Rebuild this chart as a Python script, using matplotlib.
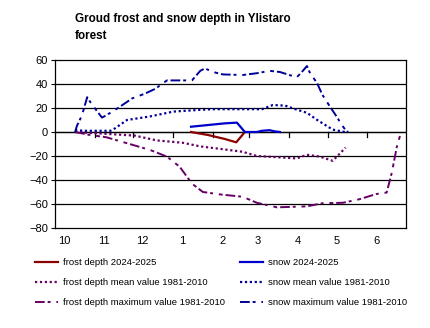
import matplotlib
matplotlib.use("Agg")
import matplotlib.pyplot as plt
import numpy as np

plt.rcParams['font.family'] = ['Liberation Sans', 'DejaVu Sans']

# days counted from 1 October
month_labels = ["10", "11", "12", "1", "2", "3", "4", "5", "6"]
month_len = [31, 30, 31, 31, 28, 31, 30, 31, 30]

frost_day = [105.8, 119, 132, 141, 147.7]
frost_val = [0, -2.5, -5.8, -8.6, 0]

snow_day = [105.8, 119, 132, 141.5, 147.7, 157, 161, 167, 171, 175]
snow_val = [4.4, 5.8, 7.2, 7.8, 0, 0, 1, 1.5, 0.5, 0]

frost_mean_day = [15.6, 32, 46.6, 62, 79, 99.5, 113, 128, 146, 157, 188, 196, 206, 216, 221.6, 226]
frost_mean_val = [0, -1, -2, -3, -7, -9, -12, -14, -16.5, -20, -22, -19, -20.5, -24, -18, -13]

snow_mean_day = [15.6, 23, 43, 46.6, 56, 74, 92, 113, 123, 161, 169.5, 179, 185, 196, 204, 211.5, 216, 225.5]
snow_mean_val = [1.5, 1, 1, 3, 10, 13, 17, 18.5, 19, 19, 22.5, 22, 19.7, 16, 10, 5, 2, 0]

frost_max_day = [15.6, 27, 40, 58, 74, 87, 97, 106.5, 115, 128, 146, 157, 172.6, 196, 208, 224, 237, 250, 258, 262, 266, 269]
frost_max_val = [0, -2.5, -4.4, -10, -15, -20.5, -29, -43, -50, -52, -54, -59, -62.8, -62, -59.4, -59, -56, -51.7, -50.5, -34, -12, -1]

snow_max_day = [15.6, 17, 21, 25, 28, 36.5, 40, 49, 60, 70, 78, 87, 106.5, 113, 116.6, 123, 130.6, 146, 157,
                167, 175, 181, 188, 192, 196, 198, 204, 208, 214, 219, 223, 226, 228]
snow_max_val = [0, 5, 14, 29, 24, 12, 14, 20, 28, 32, 36, 43, 43, 51, 53, 50, 48, 47.5, 49,
                51, 50, 48, 45.5, 50, 55, 50, 40.5, 31, 21, 13, 6, 1.7, 0]

dash_dot = (0, (5, 1.5, 1.5, 3, 2, 1.5))

fig = plt.figure(figsize=(4.3, 3.28), dpi=100)
ax = fig.add_axes([0.128, 0.305, 0.816, 0.512])

h1, = ax.plot(frost_day, frost_val, color="#8b0000", lw=1.6, label="frost depth 2024-2025")
h4, = ax.plot(snow_day, snow_val, color="#0000cc", lw=1.6, label="snow 2024-2025")
h2, = ax.plot(frost_mean_day, frost_mean_val, color="#660066", lw=1.6, linestyle=(0, (1, 1.2)),
              label="frost depth mean value 1981-2010")
h5, = ax.plot(snow_mean_day, snow_mean_val, color="#000099", lw=1.6, linestyle=(0, (1, 1.2)),
              label="snow mean value 1981-2010")
h3, = ax.plot(frost_max_day, frost_max_val, color="#660066", lw=1.4, linestyle=dash_dot,
              label="frost depth maximum value 1981-2010")
h6, = ax.plot(snow_max_day, snow_max_val, color="#000099", lw=1.4, linestyle=dash_dot,
              label="snow maximum value 1981-2010")

month_start = np.concatenate([[0], np.cumsum(month_len)])
ax.set_xlim(0, month_start[-1])
ax.set_ylim(-80, 60)
ax.set_yticks(np.arange(-80, 61, 20))
for yv in np.arange(-60, 60, 20):
    ax.axhline(yv, color="black", lw=0.9, zorder=0.5)
# x axis crossing at zero with month tick marks
ax.axhline(0, color="black", lw=0.9, zorder=0.5)
for xs in month_start[1:-1]:
    ax.plot([xs, xs], [0, -4], color="black", lw=0.9, zorder=0.5)

ax.set_xticks(month_start[:-1] + 7)
ax.set_xticklabels(month_labels)
ax.tick_params(axis="x", length=0, labelsize=8, pad=6)
ax.tick_params(axis="y", length=3, labelsize=8, pad=2)
for sp in ax.spines.values():
    sp.set_linewidth(0.9)

fig.text(0.174, 0.916, "Groud frost and snow depth in Ylistaro\nforest", fontsize=8.4, fontweight="bold",
         va="center", ha="left", linespacing=1.5)

fig.legend(handles=[h1, h2, h3, h4, h5, h6], ncol=2, loc="upper left", bbox_to_anchor=(0.0814, 0.212),
           frameon=False, fontsize=6.8, handlelength=2.4, handletextpad=0.55, columnspacing=1.6,
           labelspacing=1.15, borderpad=0, borderaxespad=0)

fig.savefig("out.png", dpi=100)
